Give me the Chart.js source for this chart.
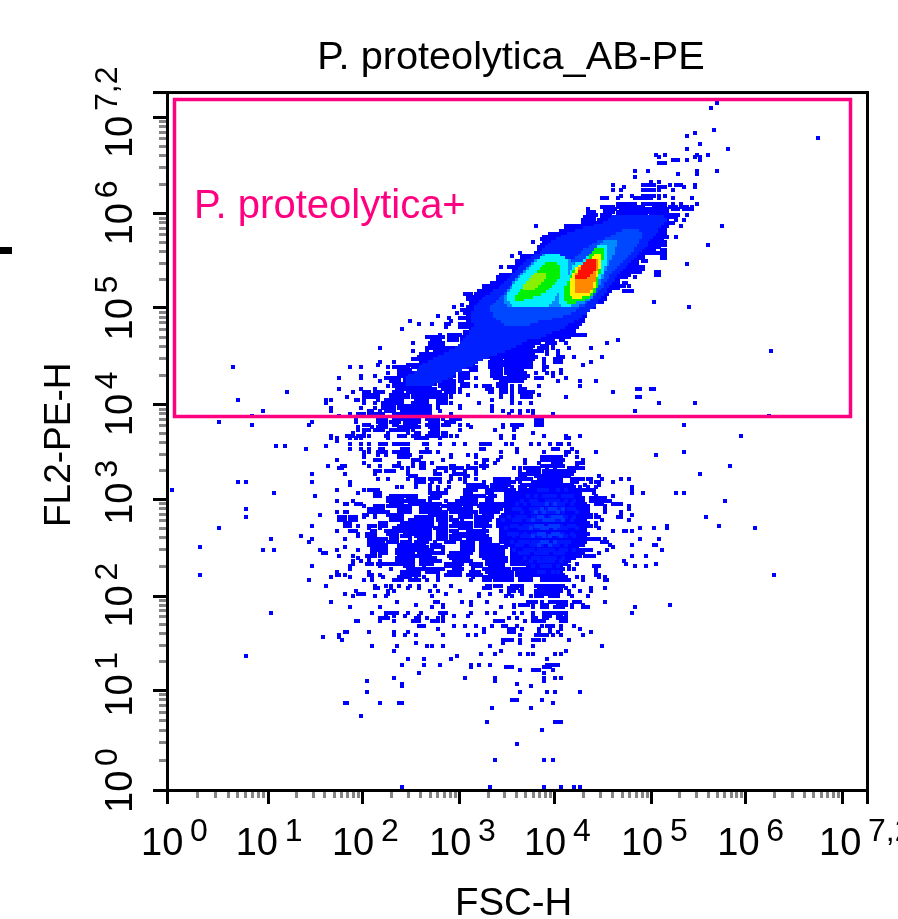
<!DOCTYPE html>
<html>
<head>
<meta charset="utf-8">
<title>P. proteolytica_AB-PE</title>
<script src="https://cdn.jsdelivr.net/npm/chart.js@4"></script>
<style>
  html, body { margin: 0; padding: 0; background: #fff; overflow: hidden; }
  canvas { display: block; }
</style>
</head>
<body>
<canvas id="dotplot" width="898" height="919"></canvas>
<script>
// Axes are in instrument channels (0-256), log display with 10^0 ... 10^7,2
const channelMax = 256;
const decadeChannels = [0, 36.8, 71.3, 106.8, 141.5, 177, 211.5, 246.9];
const tickExponents = ['0', '1', '2', '3', '4', '5', '6', '7,2'];
const tickLabelChannels = [0, 36.8, 71.3, 106.8, 141.5, 177, 211.5, 256];
const minorMultiples = [2, 3, 4, 5, 6, 7, 8, 9];

// gate: x from, x to, y from, y to (channels)
const gateX = [2.4, 249.8];
const gateY = [137.5, 253.6];

// each row: [FL2 channel, 'FSC channels or from-to runs']
const sparseRows = [
  [252, '201'], [250, '199'], [242, '200'], [241, '193'], [240, '190'], [239, '238'],
  [237, '195'], [235, '190 205'], [233, '179 182 194 198'], [232, '180 193 195'],
  [231, '185-187 190 195'], [230, '180-182'], [227, '171 176 194 201'], [226, '187 194'],
  [225, '171'], [223, '177 180'], [222, '163 174-178 184 186-188 193'],
  [221, '167 180-182 189 193'], [220, '163 166 174-178 180 185'],
  [218, '166 170 174-178 180 182'], [217, '159-161 165 171-177 180 185 192'],
  [207, '135'], [183, '167-168'], [179, '178'], [177, '191'],
  [174, '99'], [172, '89 104'], [171, '92 97 102'], [169, '86'], [165, '165'], [164, '90 161'],
  [162, '78'], [161, '90 221'], [157, '78 83'], [156, '77'], [155, '24 67 71 81'],
  [153, '81'], [152, '71 76'], [151, '63 71 63'], [150, '78 151'], [148, '81'], [147, '63 71 76 173 178'],
  [146, '44 68 72-74 163'], [144, '66 173'], [143, '26 58 60 69 70'], [142, '58 72 180 193'],
  [140, '60 71 76'], [139, '35 60 75 78 171'], [137, '31 63 220'], [135, '19 53 69 77-80 82-84 87-92 102 105 135-137'],
  [134, '31 52 72-74 99 107 127-129 189'], [132, '70'], [130, '60 68 210'], [129, '60 67 71'],
  [128, '62'], [126, '40 43 58'], [125, '51 67 71'], [124, '189'], [123, '72 179'], [121, '62'],
  [120, '72'], [119, '59 65 206'], [118, '63'], [116, '53 65 195'], [114, '166 169'],
  [113, '26 29 53 67'], [112, '67'], [111, '170'], [110, '2 62 170'], [109, '39 70 174 186 189'], [108, '54'],
  [106, '62 68 204'], [105, '66 70-71'], [103, '29 169'], [102, '62 66 166'], [101, '56 170'],
  [100, '29 63 166 197'], [99, '63 169'], [97, '53 183 202'], [96, '19 173 178 183 215'],
  [95, '168 170'], [93, '49'], [92, '38 53 173 180'], [91, '52'], [90, '170 178-179'],
  [89, '12'], [88, '35 39 56 181'], [87, '57-58'], [86, '170 175'], [83, '168 179'], [82, '53 171 175'],
  [79, '12 222'], [77, '52'], [75, '58'], [69, '60'], [68, '184'], [67, '67 171'], [65, '38 170'],
  [62, '70'], [58, '66'], [56, '57 63'], [55, '64'], [49, '29 106'], [48, '88 94 104 139'],
  [46, '86 94 100 111 114 118 139-143'], [45, '111 124-126 138-140'], [44, '129 134-136 141'],
  [43, '92 138'], [41, '83 109 120 138 142 144'], [40, '73 120 138'], [39, '86 128'], [38, '86 133'],
  [36, '73 129 139 142 151'], [33, '126-128 137'], [32, '65 66 78 85-86 141'], [30, '119 133'],
  [27, '71'], [25, '117 142-144'], [22, '137'], [17, '128'], [11, '120 138 141'],
  [1, '86 118 138 144 149 151']
];

const bodyRows = [
  [215, '165-171 174-182 185 188 194'],
  [214, '159-163 165-172 173-174 178-182 184-186 188-190 192'],
  [213, '154 160-164 166-176 177-183 185-187 189-192'],
  [212, '154-156 160-163 165-176 177-183'],
  [211, '154-157 159-162 165-175 177-187 190'],
  [210, '153-156 159-186'],
  [209, '152-156 158-183 186 189'],
  [208, '152-156 157-185'],
  [207, '146-183 188 203'],
  [206, '146-182'],
  [205, '144-182'],
  [204, '140-182'],
  [203, '138-183 186'],
  [202, '137-181'],
  [201, '134 138-182'],
  [200, '137-182 198'],
  [199, '136-180'],
  [198, '136-178 181-182'],
  [197, '129 135-180 181-182'],
  [196, '126 130-174 181-182'],
  [195, '130-174 181-182'],
  [194, '128-172 174-175'],
  [193, '128-172 190'],
  [192, '122 125-174'],
  [191, '127-174'],
  [190, '127-173 179-180'],
  [189, '122-169 179-180'],
  [188, '121-168 171'],
  [187, '121-165'],
  [186, '119-165 167-168'],
  [185, '116-167 169'],
  [184, '116-165'],
  [183, '114-162 168-170'],
  [182, '109-111 113-161'],
  [181, '110-160'],
  [180, '110-160'],
  [179, '111-159'],
  [178, '108 111-156'],
  [177, '105 110-156'],
  [176, '108-154'],
  [175, '106 109-153'],
  [174, '110-153'],
  [173, '103 107-152'],
  [172, '110-152'],
  [171, '103 107-151'],
  [170, '102 107-150'],
  [169, '111-149'],
  [168, '109-149'],
  [167, '100 103-107 109-149 150-153'],
  [166, '95-101 103-106 108-147'],
  [165, '97-100 103-106 108-141 144-145'],
  [164, '96-101 108-135 136 139-142 146'],
  [163, '96-101 108-134 137-139 141'],
  [162, '95-105 106-133 136-139 141 147 155'],
  [161, '95 98-106 108-137 139 143'],
  [160, '93-106 108-134 139 143'],
  [159, '92-113 114-134 135 143-145 149 159'],
  [158, '90-115 119-122 124-134 138 142-144'],
  [157, '93-112 118-122 123-133 138 142-144 155'],
  [156, '88-91 92-112 118-122 123-133 138 152'],
  [155, '83-88 90-110 111-113 118-122 124-133 138-139'],
  [154, '85-89 92-107 111-113 119-122 124-130 138 144'],
  [153, '85-105 107-110 119-122 124-131 135 139 141 144'],
  [152, '85-105 107-110 119-122 125-132 141'],
  [151, '80-85 87-104 107-110 113 120-128 129-131 135-137 146'],
  [150, '82-85 87-101 102-105 107-108 122-124 125-127 128-130 143 157'],
  [149, '83-85 86-98 100-105 108-110 121-124'],
  [148, '83-85 86-96 100-105 108-110 113 116-118 121-124 126 129 136 151'],
  [147, '84-86 87-98 101-105 107 117-119 122-124 126 129-131 172 177'],
  [146, '72-74 76-79 83-86 88-100 102-105 107 118-119 122-124 126 129-134'],
  [145, '72-77 82-88 90-96 97-102 104 110 122 126 130-133 136'],
  [144, '72-77 82-88 90-96 97-102 104 122 126 130-133 146 172'],
  [143, '72 77 80-86 91-95 99-102 119 126'],
  [142, '76 79-86 90-95 99-102 104 114 126 129 133'],
  [141, '79-83 85-96 99 107 119'],
  [140, '79-83 85-96 99 107 119'],
  [139, '74 80-83 86-96 100 119 123 126 129 132 134'],
  [138, '67 70-72 74-79 83-96 104 125 129 134 141']
];

const lowRows = [
  [136, '69 77-80 83-86 87-92 95-99 101 104-107 135-137'],
  [135, '77-80 85 88-90 96-99 102-103 104-105 135-137'],
  [134, '72-73 78-80 83-84 87-91 95-99 101-103 110 123 126-128 130 135-137'],
  [133, '70 75 77-80 85-92 96-99 111 123 127-128'],
  [132, '72-74 76-79 82-88 90 97-99 107 120 127'],
  [131, '68 72 81 88 91-92 96-99 101-102 134'],
  [130, '60 66-67 70-72 74 80-81 85-87 90-92 95-96 97-99 101-102 104 106 122 127 138 146 151'],
  [129, '60 62 69 81 91-92 93-95 100 122 127 146-147'],
  [127, '67 71 74 78-80 83-88 94-95 100 105 109 115-118 124 126 133 136 140 143-144 147'],
  [125, '74 78-79 86-88 95 115-116 128 141-143 148'],
  [124, '72 74 77-80 83-88 93-96 99 122 128 138 146-147 150 157'],
  [123, '72 77 80 85-89 104 110 113 146'],
  [122, '72 85-88 93 104 113 122 137-144 150'],
  [121, '62 76-78 90-92 101 116-117 121 131 137-140 141-145 152'],
  [120, '72 85 90 93-94 97 113 116 120 131 136 141-144 150-152'],
  [119, '64 74 78 83-85 90 93-94 104-105 110 115-117 137-139 140-145 150'],
  [118, '64 86 88 93-94 99-102 104-108 110-113 116 127 129 131-136 139 142 147-152'],
  [117, '76-78 80-83 88 98 102 105 109 113 129 132-136 138-141 142-149'],
  [116, '76 88 98-100 105-109 113 129-136 138-148'],
  [115, '89-91 104 109-110 129-131 135-136 137-144 145-147 158'],
  [114, '77 81 88 91-94 96-100 104 107 109 113 120-125 128-133 136-144 148-152 154-155 159 166 169'],
  [113, '91-94 97 100 103 109 116 120-127 129 134-144 148-150 155 157-158 163'],
  [112, '91 96 110-116 119-125 130-148 153 158'],
  [111, '84 86 91 96 99 103 110-117 119-124 126 129-131 133-149 151 154 157 170'],
  [110, '62 72 74-76 77 96 99 102 109-113 117-124 125-127 129-155 156'],
  [109, '76-78 96-102 109-111 117-119 124-151 156 170 174'],
  [108, '76-78 82-91 97-100 109-116 118-120 124-151 157 163'],
  [107, '81-86 88-91 96-99 108-113 117-119 124-152 155-160'],
  [106, '62 68 81-91 92-94 96 102 106-113 117-119 124-152 155-162'],
  [105, '65 69-71 82-86 89-100 103-113 115-123 124-153 157-159 163-166'],
  [104, '72 76-79 81-85 86-89 93-99 101-107 109-111 114-123 124-154 160 169'],
  [103, '74-79 85-89 93-100 103-111 115-122 124-154 160'],
  [102, '62 65 74-81 85-89 93-102 104-113 115-121 124-154 160 166'],
  [101, '72-73 76 81-86 96-102 107-111 113 116-119 123-155 157 166 170'],
  [100, '63-65 67-69 72 76 82-86 91-97 99-102 104 107-111 113-119 122-155 157-158 165'],
  [99, '63-65 67-69 82-86 89-97 99-102 104-106 108 113-118 121-153 159'],
  [98, '65-67 78-80 86-97 100-102 105-111 113-117 121-154 157'],
  [97, '65-67 70 74-76 78-80 85-97 100-102 104-111 113-118 121-155 157'],
  [96, '74 78 83-96 98-102 107-111 116 122-153 158 173'],
  [95, '62 67-69 75-76 80-96 99-102 104-106 110-117 122-153 163 167 170'],
  [94, '70 73-76 81-84 87-96 99-102 105-116 122-154'],
  [93, '70 73-76 82-84 86-89 91-96 99-102 104-117 122-153'],
  [92, '65 74-80 82-84 89 92-96 99-102 104-107 110-118 122-158 160'],
  [91, '74-79 81-84 86-89 91-95 98 102-105 108-112 115-118 122-153 159-161'],
  [90, '74-80 85-94 97-100 108-112 115-121 124-152 162'],
  [89, '65 75-80 85-95 97-101 108-112 115-124 126-150 163'],
  [88, '62 70 75-80 84-90 91-97 101 108-112 115-123 126-155 161'],
  [87, '75-76 78-80 84-90 92-101 104-111 115-123 126-152 158'],
  [86, '63 68 73-76 78 85-90 91-96 103-110 115-123 126-151 153-156 170 175'],
  [85, '70 74 84-90 93-98 104-110 116-124 126-149'],
  [84, '68 71 74 78 84-90 93-100 105-111 117-124 126-147 167'],
  [83, '68 73-75 77-84 85-90 93-97 102-108 111-115 117-123 126-146 150'],
  [82, '67 78 87-90 94 102-107 112-115 118-123 132-144 147 156-158 171 175'],
  [81, '67 82 88-93 94-101 105-108 112 116-125 127-145 147 149 157'],
  [80, '62 74 86-92 95-99 103-107 111-114 117-126 128-144 157'],
  [79, '62-63 65 74-75 78 86-92 99 102-107 110-115 118-126 128-138 139-145 157-158'],
  [78, '60 67 75 79 85-89 91 94 99 112 116-126 129-133 137-146 150 152 158 160'],
  [77, '72 75 83-86 89-92 95 99 111 116-118 120-126 129-133 137-147 152 160-161'],
  [75, '76 80 82 85 89 92 98 104 117-118 120-122 126-130 135-145 149'],
  [74, '76-77 82 88 92 116-118 125-128 130 136-144 146 155 160'],
  [73, '69 81 83 96 99 107 122 125-127 129-130 135-138 139-144 147 151 155'],
  [72, '65 70-72 81 102 114 118 125 130 135-138 139-143 147'],
  [71, '68 76 80 97 114 124 126 133 135-137 140-143 148 154'],
  [69, '60 84 98-99 108 111 117 132-135 137 140-146 149-151 160'],
  [68, '91 101 111 127 129-132 134 137-139 143-146 148 152'],
  [67, '67 78 97 101 122 127 134 137-139 142-145 148 152-154 171'],
  [65, '75 80-84 88 93 100-102 111 117 120 127 130 134 138-140 141-146 170'],
  [64, '80 83 87 92 101 105 110 134 138-140 143-144 146'],
  [63, '78-81 91-92 95 99 101 125 128 134-135 138-139 143-146'],
  [62, '69 78 83 90-92 97-99 101 120-123 131 134-138 144-146'],
  [60, '92-94 105 109 113 119 123-124 128 137 139-141 144 149'],
  [59, '99 116 125-127 130 136 140 144 151'],
  [58, '65 74 83 88 116 125-127 136 140 143 155'],
  [57, '63 83 87 91 101 110 113 129 135-139 141 144 152'],
  [55, '64 123-126 129 134-136 138 147'],
  [54, '91 123 129'],
  [53, '75 84 95 97 101 118 134 159'],
  [51, '83 122 146'],
  [50, '115 120 129 132 134 142 144']
];

// mottled lighter cells of the lower population
const lowMidRows = [
  [110, '136-139 143 146'], [108, '132 135 138-142 145-148'], [106, '130 133-135 139-143 146 149'],
  [105, '128 131 134-138 141-145 148'], [103, '127-129 133-136 139-144 147-149'],
  [102, '130 134 137-142 145 150'], [100, '125 128-131 134-138 140-146 149'],
  [99, '123 127-129 132-136 139-145 148'], [97, '126-128 131-137 140-144 147-149'],
  [96, '124 129-133 135-139 142-146 150'], [94, '125-128 131 134-138 141-145 148'],
  [93, '127 130-133 136-140 143-146 149'], [91, '126 129-132 134-139 142-147'],
  [90, '128-130 133-137 140-143 146'], [88, '127 131-134 136-141 144-146 149'],
  [87, '129-132 135-139 142-145'], [85, '131 134-136 138-142 145'], [84, '133 136-141 144'],
  [82, '134 137-140 143'], [80, '136-138 141 143']
];

const lowCoreRows = [
  [105, '139 142'], [103, '137 140-142 145'], [102, '135 138 143'], [100, '136-137 141-144'],
  [99, '134 138-141 145'], [97, '135-137 140-143'], [96, '133 137-139 142'], [94, '136-138 141-143'],
  [93, '134 138 140 144'], [91, '137-139 142'], [90, '136 140']
];

const midBlueRows = [
  [210, '163-181'], [209, '162-182'], [208, '160-181'], [207, '157-180'], [206, '153-179'], [205, '150-179'],
  [204, '147-178'], [203, '145-177'], [202, '143-176'], [201, '141-175'], [200, '140-175'], [199, '139-174'],
  [198, '138-173'], [197, '137-172'], [196, '135-171'], [195, '134-170'], [194, '132-169'], [193, '131-168'],
  [192, '130-167'], [191, '129-166'], [190, '128-165'], [189, '127-164'], [188, '126-163'], [187, '125-163'],
  [186, '124-162'], [185, '123-161'], [184, '122-160'], [183, '120-160'], [182, '119-159'], [181, '117-158'],
  [180, '116-157'], [179, '115-157'], [178, '114-156'], [177, '113-155'], [176, '113-154'], [175, '112-153'],
  [174, '112-151'], [173, '112-150'], [172, '112-148'], [171, '113-146'], [170, '113-145'], [169, '112-143'],
  [168, '111-140'], [167, '111-138'], [166, '110-136'], [165, '109-131'], [164, '108-129'], [163, '107-127'],
  [162, '106-125'], [161, '104-123'], [160, '102-120'], [159, '100-117'], [158, '98-115'], [157, '96-113'],
  [156, '94-111'], [155, '93-109'], [154, '92-107'], [153, '91-105'], [152, '89-104'], [151, '88-102'],
  [150, '88-100'], [149, '88-97']
];

const azureRows = [
  [205, '167-172'], [204, '165-173'], [203, '163-173'], [202, '161-172'], [201, '158-172'], [200, '156-171'],
  [199, '155-170'], [198, '153-170'], [197, '152-169'], [196, '151-168'], [195, '150-167'], [194, '149-166'],
  [193, '148-165'], [192, '147-164'], [191, '146-163'], [190, '145-162'], [189, '133-161'], [188, '131-161'],
  [187, '130-160'], [186, '128-159'], [185, '127-159'], [184, '126-158'], [183, '125-157'], [182, '124-156'],
  [181, '123-155'], [180, '122-154'], [179, '121-153'], [178, '120-152'], [177, '119-150'], [176, '119-149'],
  [175, '120-147'], [174, '120-144'], [173, '121-140'], [172, '123-135'], [171, '124-132']
];

const skyRows = [
  [201, '160-164'], [200, '159-164'], [199, '158-163'], [198, '157-163'], [197, '156-163'],
  [196, '138-143 156-162'], [195, '137-145 155-162'], [194, '135-147 155-161'], [193, '134-148 154-161'],
  [192, '133-149 153-160'], [191, '132-150 152-160'], [190, '131-151 151-159'], [189, '130-159'],
  [188, '129-159'], [187, '128-158'], [186, '127-158'], [185, '127-157'], [184, '126-156'], [183, '125-156'],
  [182, '125-155'], [181, '124-155'], [180, '124-154'], [179, '124-152'], [178, '125-150']
];

const cyanRows = [
  [199, '158-160'], [198, '157-160'], [197, '156-160'], [196, '139-143 155-160'],
  [195, '137-145 154-160'], [194, '136-146 153-160'], [193, '135-146 150-160'], [192, '134-146 149-159'],
  [191, '133-146 149-159'], [190, '132-146 148-159'], [189, '131-146 148-158'], [188, '130-146 147-158'],
  [187, '129-145 146-157'], [186, '128-145 146-157'], [185, '127-144 145-156'], [184, '127-144 145-156'],
  [183, '126-143 144-155'], [182, '125-142 144-155'], [181, '125-141 144-154'], [180, '125-141 144-152'],
  [179, '126-140 144-149'], [178, '127-139 145-147']
];

const greenRows = [
  [198, '157-159'], [197, '156-159'], [196, '155-159'], [195, '155-159'], [194, '154-158'],
  [193, '139-142 153-158'], [192, '138-143 152-158'], [191, '137-143 150-158'], [190, '136-143 149-158'],
  [189, '135-143 149-157'], [188, '134-143 148-157'], [187, '133-142 148-157'], [186, '133-141 147-157'],
  [185, '132-140 147-157'], [184, '131-139 146-156'], [183, '130-138 146-156'], [182, '129-136 146-155'],
  [181, '128-133 146-154'], [180, '128-130 146-152'], [179, '147-149']
];

const limeRows = [
  [189, '135-138'], [188, '134-138'], [187, '133-137'], [186, '132-136'], [185, '131-135'], [184, '131-134']
];

const yellowRows = [
  [196, '157-158'], [195, '156-158'], [194, '155-158'], [193, '153-158'], [192, '151-158'], [191, '150-157'],
  [190, '150-157'], [189, '149-157'], [188, '149-156'], [187, '148-156'], [186, '148-156'], [185, '148-156'],
  [184, '148-155'], [183, '148-155'], [182, '148-154'], [181, '149-151']
];

const orangeRows = [
  [194, '155-157'], [193, '154-157'], [192, '152-157'], [191, '151-157'], [190, '151-156'], [189, '150-156'],
  [188, '150-156'], [187, '150-156'], [186, '150-155'], [185, '150-155'], [184, '150-155'], [183, '150-154']
];

const redRows = [
  [194, '154-156'], [193, '153-156'], [192, '152-156'], [191, '152-156'], [190, '151-155'], [189, '151-154'], [188, '150-153']
];

// turn the rows into {x, y} cells for the scatter
function toCells(rows) {
  const cells = [];
  rows.forEach(([y, runs]) => {
    runs.split(' ').forEach(run => {
      const [from, to = from] = run.split('-').map(Number);
      for (let x = from; x <= to; x++) cells.push({ x, y });
    });
  });
  return cells;
}

// density colours, lowest count first
const layers = [
  { label: 'sparse', rows: sparseRows.concat(bodyRows, lowRows), color: '#0000FF' },
  { label: 'low mid', rows: lowMidRows, color: '#0016FF' },
  { label: 'low core', rows: lowCoreRows, color: '#0038FF' },
  { label: 'mid blue', rows: midBlueRows, color: '#0020FF' },
  { label: 'azure', rows: azureRows, color: '#0048FF' },
  { label: 'sky', rows: skyRows, color: '#008CFF' },
  { label: 'cyan', rows: cyanRows, color: '#00F0FF' },
  { label: 'green', rows: greenRows, color: '#00F000' },
  { label: 'lime', rows: limeRows, color: '#88F000' },
  { label: 'yellow', rows: yellowRows, color: '#FFF000' },
  { label: 'orange', rows: orangeRows, color: '#FF8800' },
  { label: 'red', rows: redRows, color: '#FF1000' }
];

const axisTicks = scale => {
  const ticks = [];
  decadeChannels.forEach((value, i) => {
    ticks.push({ value, major: true });
    if (i < decadeChannels.length - 1) {
      const span = decadeChannels[i + 1] - value;
      minorMultiples.forEach(k => ticks.push({ value: value + Math.log10(k) * span, major: false }));
    }
  });
  ticks.push({ value: channelMax, major: true });
  scale.ticks = ticks;
};

// dots sit on whole pixels so they stay crisp like the original
const snapDots = {
  id: 'snapDots',
  afterDatasetsUpdate(chart) {
    chart.data.datasets.forEach((d, i) => {
      chart.getDatasetMeta(i).data.forEach(p => {
        p.x = Math.round(p.x);
        p.y = Math.round(p.y);
      });
    });
  }
};

const shiftTitle = {
  id: 'shiftTitle',
  afterLayout(chart) {
    chart.titleBlock.left -= 6;
    chart.titleBlock.right -= 6;
  }
};

// frame, ticks, exponents, axis names and the gate
const frameAndGate = {
  id: 'frameAndGate',
  afterDatasetsDraw(chart) {
    const { ctx, scales: { x, y } } = chart;
    const left = x.left, right = x.right, top = y.top, bottom = y.bottom;
    ctx.save();

    // white strip under the axis so dots do not hang over it
    ctx.fillStyle = '#fff';
    ctx.fillRect(left - 16, bottom, right - left + 32, 20);

    // minor ticks first
    ctx.fillStyle = '#858585';
    x.ticks.filter(t => !t.major).forEach(t => ctx.fillRect(Math.round(x.getPixelForValue(t.value)) - 1, bottom, 3, 8));
    y.ticks.filter(t => !t.major).forEach(t => ctx.fillRect(left - 8, Math.round(y.getPixelForValue(t.value)) - 1, 8, 3));

    ctx.fillStyle = '#000';
    x.ticks.filter(t => t.major).forEach(t => ctx.fillRect(Math.round(x.getPixelForValue(t.value)) - 1, bottom, 3, 14));
    y.ticks.filter(t => t.major).forEach(t => ctx.fillRect(left - 14, Math.round(y.getPixelForValue(t.value)) - 1, 14, 3));

    ctx.fillRect(left - 1, top - 1, 3, bottom - top + 3);
    ctx.fillRect(right - 1, top - 1, 3, bottom - top + 3);
    ctx.fillRect(left - 14, top - 1, right - left + 15, 3);
    ctx.fillRect(left - 14, bottom - 1, right - left + 15, 3);
    ctx.fillRect(0, 247, 12, 7);

    // gate
    const gx0 = x.getPixelForValue(gateX[0]), gx1 = x.getPixelForValue(gateX[1]);
    const gy0 = y.getPixelForValue(gateY[0]), gy1 = y.getPixelForValue(gateY[1]);
    ctx.strokeStyle = '#FF0080';
    ctx.lineWidth = 3.5;
    ctx.strokeRect(Math.round(gx0) + 0.5, Math.round(gy1) + 0.5, Math.round(gx1 - gx0), Math.round(gy0 - gy1));
    ctx.fillStyle = '#FF0080';
    ctx.font = '40px "Liberation Sans"';
    ctx.textAlign = 'left';
    ctx.textBaseline = 'alphabetic';
    ctx.fillText('P. proteolytica+', x.getPixelForValue(9.9), y.getPixelForValue(209.8));

    // tick labels, 10 and a raised exponent
    const xShift = [-25, -31, -29, -29, -29, -29, -27, -47];
    const yShift = [18, 22, 27, 21, 27, 28, 27, 61];
    ctx.fillStyle = '#000';
    tickExponents.forEach((exp, i) => {
      const px = x.getPixelForValue(tickLabelChannels[i]) + xShift[i];
      ctx.font = '38px "Liberation Sans"';
      ctx.fillText('10', px - 1, 855);
      ctx.font = '32px "Liberation Sans"';
      ctx.fillText(exp, px + 48, 841);

      const py = y.getPixelForValue(tickLabelChannels[i]) + yShift[i];
      ctx.save();
      ctx.translate(132, py + 5);
      ctx.rotate(-Math.PI / 2);
      ctx.font = '38px "Liberation Sans"';
      ctx.fillText('10', 0, 0);
      ctx.font = '32px "Liberation Sans"';
      ctx.fillText(exp, 47, -15);
      ctx.restore();
    });

    // axis names
    ctx.font = '38.4px "Liberation Sans"';
    ctx.fillText('FSC-H', 455, 915);
    ctx.save();
    ctx.translate(70, 527);
    ctx.rotate(-Math.PI / 2);
    ctx.font = '37px "Liberation Sans"';
    ctx.fillText('FL2-PE-H', 0, 0);
    ctx.restore();

    ctx.restore();
  }
};

new Chart(document.getElementById('dotplot'), {
  type: 'scatter',
  data: {
    datasets: layers.map((layer, i) => ({
      label: layer.label,
      data: toCells(layer.rows),
      backgroundColor: layer.color,
      pointStyle: 'rect',
      pointRadius: 2.83,
      pointBorderWidth: 0,
      pointHoverRadius: 2.83,
      order: layers.length - i
    }))
  },
  options: {
    responsive: false,
    animation: false,
    events: [],
    layout: { padding: { left: 0, right: 31, top: 0, bottom: 0 } },
    plugins: {
      legend: { display: false },
      tooltip: { enabled: false },
      title: {
        display: true,
        text: 'P. proteolytica_AB-PE',
        fullSize: false,
        color: '#000',
        font: { family: '"Liberation Sans"', size: 39.7, weight: 'normal', lineHeight: 1.2 },
        padding: { top: 34, bottom: 10.4 }
      }
    },
    scales: {
      x: {
        type: 'linear',
        min: 0,
        max: channelMax,
        grid: { display: false },
        border: { display: false },
        ticks: { display: false },
        afterBuildTicks: axisTicks,
        afterFit(scale) { scale.height = 129; }
      },
      y: {
        type: 'linear',
        min: 0,
        max: channelMax,
        grid: { display: false },
        border: { display: false },
        ticks: { display: false },
        afterBuildTicks: axisTicks,
        afterFit(scale) { scale.width = 167; }
      }
    }
  },
  plugins: [snapDots, shiftTitle, frameAndGate]
});
</script>
</body>
</html>
